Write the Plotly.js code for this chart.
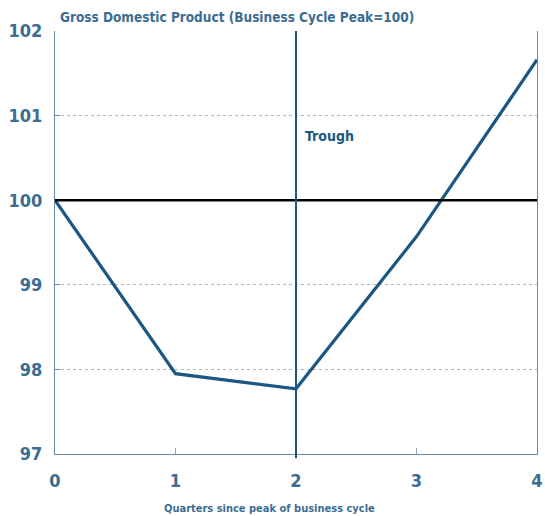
<!DOCTYPE html>
<html>
<head>
<meta charset="utf-8">
<script src="https://cdn.plot.ly/plotly-3.0.1.min.js"></script>
<style>html,body{margin:0;padding:0;background:#fff;}#chart{width:545px;height:516px;}</style>
</head>
<body>
<div id="chart"></div>
<script>
const quarters = [0, 1, 2, 3, 4];
const gdpIndex = [100, 97.95, 97.77, 99.57, 101.66];
const troughQuarter = 2;
const peakLevel = 100;
const yTicks = [97, 98, 99, 100, 101, 102];
const xTicks = [0, 1, 2, 3, 4];

const fontFam = "'DejaVu Sans Condensed', Tahoma, 'DejaVu Sans', sans-serif";
const txtCol = '#3b6d92';
const lineCol = '#1b5782';

const trace = {
  x: quarters, y: gdpIndex, type: 'scatter', mode: 'lines',
  line: {color: lineCol, width: 3.2}, hoverinfo: 'skip', showlegend: false
};

const layout = {
  width: 545, height: 516,
  margin: {l: 55, r: 8, t: 31, b: 62},
  paper_bgcolor: '#fff', plot_bgcolor: '#fff',
  title: {text: 'Gross Domestic Product (Business Cycle Peak=100)', x: 0.11, xanchor: 'left', y: 0.967, yanchor: 'middle',
    font: {family: fontFam, size: 13.5, color: txtCol, weight: 'bold'}},
  xaxis: {
    range: [0, 4], tickvals: xTicks, ticktext: xTicks.map(String),
    showgrid: false, zeroline: false,
    showline: true, linecolor: '#6b8ba3', linewidth: 1.2,
    ticks: 'inside', ticklen: 6, tickcolor: '#8aa3b6', tickwidth: 1,
    tickfont: {family: fontFam, size: 18, color: txtCol, weight: 'bold'},
    ticklabelstandoff: 10,
    fixedrange: true
  },
  yaxis: {
    range: [97, 102], tickvals: yTicks, ticktext: yTicks.map(String),
    showgrid: true, gridcolor: '#b5b5b5', griddash: 'dot', gridwidth: 1,
    zeroline: false,
    showline: true, mirror: true, linecolor: '#6b8ba3', linewidth: 1.2,
    ticks: 'inside', ticklen: 5, tickcolor: '#6b8ba3',
    tickfont: {family: fontFam, size: 18, color: txtCol, weight: 'bold'},
    ticklabelstandoff: 8,
    fixedrange: true
  },
  shapes: [
    {type: 'line', xref: 'paper', yref: 'y', x0: 0, x1: 1, y0: peakLevel, y1: peakLevel,
      line: {color: '#000', width: 2.5}},
    {type: 'line', xref: 'x', yref: 'paper', x0: troughQuarter, x1: troughQuarter, y0: -0.01, y1: 1,
      line: {color: lineCol, width: 2}}
  ],
  annotations: [
    {x: troughQuarter, y: 100.76, xref: 'x', yref: 'y', text: 'Trough', showarrow: false,
      xanchor: 'left', yanchor: 'middle', xshift: 7,
      font: {family: fontFam, size: 14, color: lineCol, weight: 'bold'}},
    {x: 0.446, y: -0.128, xref: 'paper', yref: 'paper', text: 'Quarters since peak of business cycle',
      showarrow: false, xanchor: 'center', yanchor: 'middle',
      font: {family: fontFam, size: 11, color: txtCol, weight: 'bold'}}
  ]
};

Plotly.newPlot('chart', [trace], layout, {displayModeBar: false, staticPlot: true});
</script>
</body>
</html>
